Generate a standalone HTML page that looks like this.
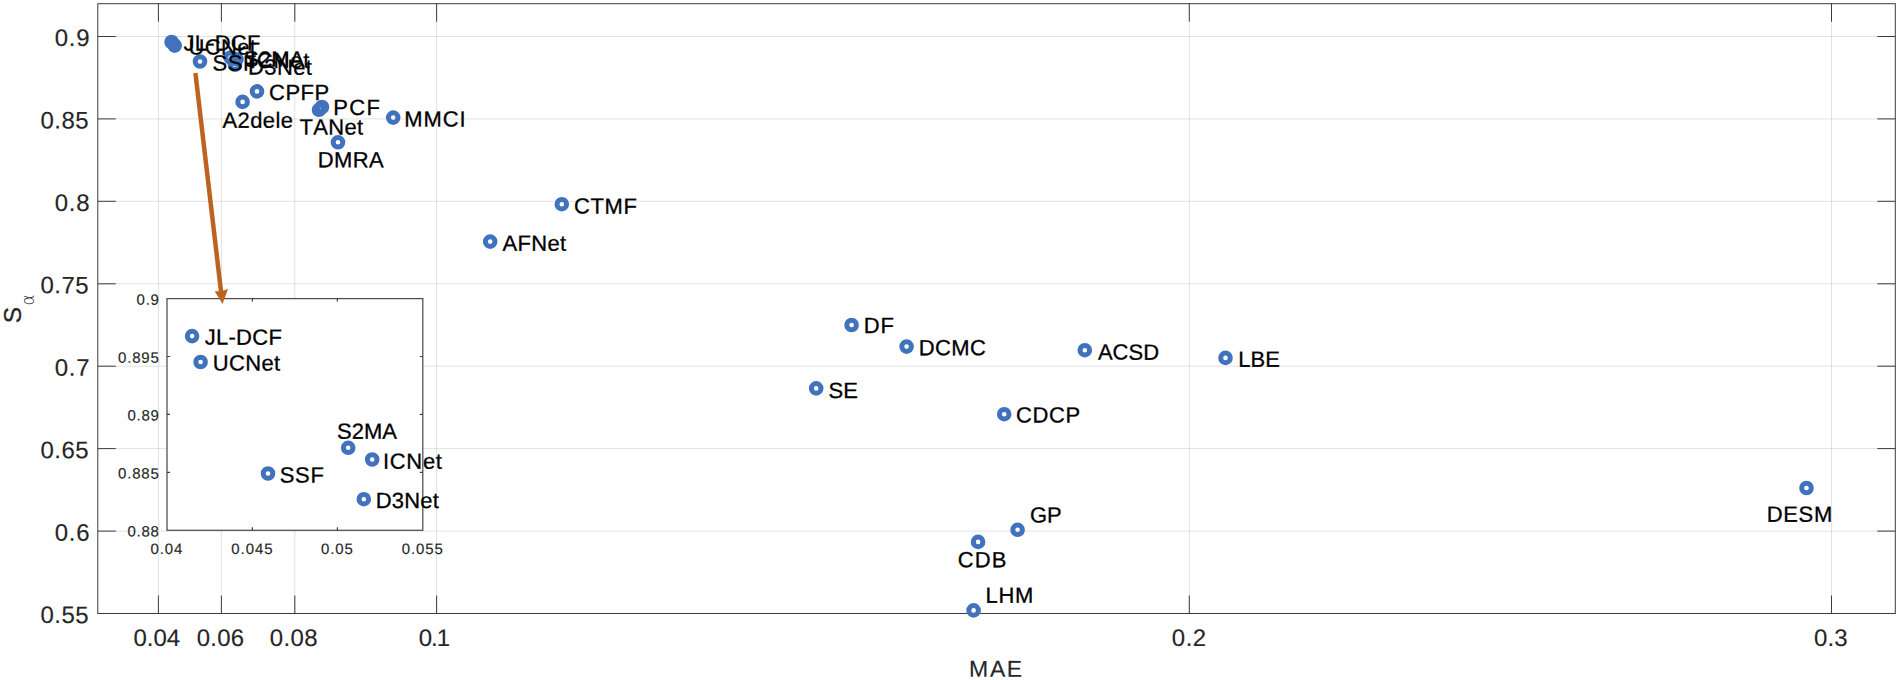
<!DOCTYPE html>
<html lang="en"><head><meta charset="utf-8"><title>S-alpha vs MAE</title>
<style>html,body{margin:0;padding:0;background:#fff}body{width:1901px;height:680px;overflow:hidden}</style></head>
<body>
<svg width="1901" height="680" viewBox="0 0 1901 680" style="display:block;font-family:'Liberation Sans',Arial,Helvetica,sans-serif;font-kerning:none">
<rect x="0" y="0" width="1901" height="680" fill="#fff"/>
<path d="M158.4 3.7V613.5M221.4 3.7V613.5M294.8 3.7V613.5M436.6 3.7V613.5M1189.3 3.7V613.5M1831.5 3.7V613.5" stroke="#262626" stroke-opacity="0.14" stroke-width="0.95" fill="none"/>
<path d="M97.8 36.5H1895.3M97.8 118.9H1895.3M97.8 201.3H1895.3M97.8 283.8H1895.3M97.8 366.2H1895.3M97.8 448.6H1895.3M97.8 531.1H1895.3" stroke="#262626" stroke-opacity="0.14" stroke-width="0.95" fill="none"/>
<path d="M158.4 613.5v-18M158.4 3.7v18M221.4 613.5v-18M221.4 3.7v18M294.8 613.5v-18M294.8 3.7v18M436.6 613.5v-18M436.6 3.7v18M1189.3 613.5v-18M1189.3 3.7v18M1831.5 613.5v-18M1831.5 3.7v18M97.8 36.5h18M1895.3 36.5h-18M97.8 118.9h18M1895.3 118.9h-18M97.8 201.3h18M1895.3 201.3h-18M97.8 283.8h18M1895.3 283.8h-18M97.8 366.2h18M1895.3 366.2h-18M97.8 448.6h18M1895.3 448.6h-18M97.8 531.1h18M1895.3 531.1h-18M97.8 613.5h18M1895.3 613.5h-18" stroke="#3c3c3c" stroke-width="1" fill="none"/>
<rect x="97.8" y="3.7" width="1797.5" height="609.8" fill="none" stroke="#3c3c3c" stroke-width="1"/>
<text transform="translate(54.66 46.05) skewY(0.06)" font-size="24" letter-spacing="0.81" fill="#262626" stroke="#262626" stroke-width="0.15">0.9</text>
<text transform="translate(40.56 128.49) skewY(0.06)" font-size="24" letter-spacing="0.41" fill="#262626" stroke="#262626" stroke-width="0.15">0.85</text>
<text transform="translate(54.66 210.92) skewY(0.06)" font-size="24" letter-spacing="0.76" fill="#262626" stroke="#262626" stroke-width="0.15">0.8</text>
<text transform="translate(40.56 293.36) skewY(0.06)" font-size="24" letter-spacing="0.41" fill="#262626" stroke="#262626" stroke-width="0.15">0.75</text>
<text transform="translate(54.66 375.79) skewY(0.06)" font-size="24" letter-spacing="0.84" fill="#262626" stroke="#262626" stroke-width="0.15">0.7</text>
<text transform="translate(40.56 458.23) skewY(0.06)" font-size="24" letter-spacing="0.41" fill="#262626" stroke="#262626" stroke-width="0.15">0.65</text>
<text transform="translate(54.66 540.66) skewY(0.06)" font-size="24" letter-spacing="0.76" fill="#262626" stroke="#262626" stroke-width="0.15">0.6</text>
<text transform="translate(40.56 623.10) skewY(0.06)" font-size="24" letter-spacing="0.41" fill="#262626" stroke="#262626" stroke-width="0.15">0.55</text>
<text transform="translate(133.46 646.00) skewY(0.06)" font-size="24" letter-spacing="-0.02" fill="#262626" stroke="#262626" stroke-width="0.15">0.04</text>
<text transform="translate(196.66 646.00) skewY(0.06)" font-size="24" letter-spacing="0.23" fill="#262626" stroke="#262626" stroke-width="0.15">0.06</text>
<text transform="translate(269.66 646.00) skewY(0.06)" font-size="24" letter-spacing="0.42" fill="#262626" stroke="#262626" stroke-width="0.15">0.08</text>
<text transform="translate(418.66 646.00) skewY(0.06)" font-size="24" letter-spacing="-0.93" fill="#262626" stroke="#262626" stroke-width="0.15">0.1</text>
<text transform="translate(1171.76 646.00) skewY(0.06)" font-size="24" letter-spacing="0.54" fill="#262626" stroke="#262626" stroke-width="0.15">0.2</text>
<text transform="translate(1814.06 646.00) skewY(0.06)" font-size="24" letter-spacing="0.11" fill="#262626" stroke="#262626" stroke-width="0.15">0.3</text>
<text transform="translate(969.11 676.70) skewY(0.06)" font-size="23" letter-spacing="1.62" fill="#262626" stroke="#262626" stroke-width="0.15">MAE</text>
<g transform="translate(21.4,323.2) rotate(-90)"><text x="0" y="0" font-size="24.5" fill="#262626" stroke="#262626" stroke-width="0.3">S</text><text x="17.6" y="12.2" font-size="17" fill="#262626" font-family="'DejaVu Sans Light','DejaVu Sans',sans-serif" font-weight="200">α</text></g>
<g fill="none" stroke="#4072be" stroke-width="5"><circle cx="171.6" cy="42.0" r="4.8"/><circle cx="174.7" cy="45.6" r="4.8"/><circle cx="200.0" cy="61.5" r="4.8"/><circle cx="230.6" cy="57.5" r="4.8"/><circle cx="236.5" cy="59.3" r="4.8"/><circle cx="235.0" cy="64.8" r="4.8"/><circle cx="257.0" cy="91.4" r="4.8"/><circle cx="242.6" cy="101.9" r="4.8"/><circle cx="322.0" cy="107.0" r="4.8"/><circle cx="319.0" cy="109.8" r="4.8"/><circle cx="393.2" cy="117.6" r="4.8"/><circle cx="338.0" cy="142.3" r="4.8"/><circle cx="561.8" cy="204.2" r="4.8"/><circle cx="490.2" cy="241.6" r="4.8"/><circle cx="851.6" cy="325.0" r="4.8"/><circle cx="906.6" cy="346.6" r="4.8"/><circle cx="1084.8" cy="350.2" r="4.8"/><circle cx="816.2" cy="388.4" r="4.8"/><circle cx="1004.2" cy="414.2" r="4.8"/><circle cx="1225.5" cy="357.9" r="4.8"/><circle cx="1017.6" cy="529.8" r="4.8"/><circle cx="978.1" cy="541.9" r="4.8"/><circle cx="973.6" cy="610.4" r="4.8"/><circle cx="1806.5" cy="488.0" r="4.8"/></g>
<text transform="translate(183.46 50.50) skewY(0.06)" font-size="22" letter-spacing="0.23" fill="#000" stroke="#000" stroke-width="0.28">JL-DCF</text>
<text transform="translate(188.50 54.50) skewY(0.06)" font-size="22" letter-spacing="0.34" fill="#000" stroke="#000" stroke-width="0.28">UCNet</text>
<text transform="translate(212.40 70.40) skewY(0.06)" font-size="22" letter-spacing="0.65" fill="#000" stroke="#000" stroke-width="0.28">SSF</text>
<text transform="translate(244.00 66.50) skewY(0.06)" font-size="22" letter-spacing="0.11" fill="#000" stroke="#000" stroke-width="0.28">S2MA</text>
<text transform="translate(249.77 68.00) skewY(0.06)" font-size="22" letter-spacing="0.84" fill="#000" stroke="#000" stroke-width="0.28">ICNet</text>
<text transform="translate(248.10 74.60) skewY(0.06)" font-size="22" letter-spacing="0.38" fill="#000" stroke="#000" stroke-width="0.28">D3Net</text>
<text transform="translate(269.08 100.00) skewY(0.06)" font-size="22" letter-spacing="0.47" fill="#000" stroke="#000" stroke-width="0.28">CPFP</text>
<text transform="translate(222.56 127.70) skewY(0.06)" font-size="22" letter-spacing="0.38" fill="#000" stroke="#000" stroke-width="0.28">A2dele</text>
<text transform="translate(333.20 115.00) skewY(0.06)" font-size="22" letter-spacing="1.39" fill="#000" stroke="#000" stroke-width="0.28">PCF</text>
<text transform="translate(299.51 134.40) skewY(0.06)" font-size="22" letter-spacing="0.33" fill="#000" stroke="#000" stroke-width="0.28">TANet</text>
<text transform="translate(404.20 126.40) skewY(0.06)" font-size="22" letter-spacing="0.93" fill="#000" stroke="#000" stroke-width="0.28">MMCI</text>
<text transform="translate(317.70 167.20) skewY(0.06)" font-size="22" letter-spacing="0.36" fill="#000" stroke="#000" stroke-width="0.28">DMRA</text>
<text transform="translate(573.88 213.60) skewY(0.06)" font-size="22" letter-spacing="0.64" fill="#000" stroke="#000" stroke-width="0.28">CTMF</text>
<text transform="translate(502.56 250.80) skewY(0.06)" font-size="22" letter-spacing="0.31" fill="#000" stroke="#000" stroke-width="0.28">AFNet</text>
<text transform="translate(863.80 333.00) skewY(0.06)" font-size="22" letter-spacing="0.76" fill="#000" stroke="#000" stroke-width="0.28">DF</text>
<text transform="translate(918.80 355.20) skewY(0.06)" font-size="22" letter-spacing="0.35" fill="#000" stroke="#000" stroke-width="0.28">DCMC</text>
<text transform="translate(1097.96 359.60) skewY(0.06)" font-size="22" letter-spacing="-0.01" fill="#000" stroke="#000" stroke-width="0.28">ACSD</text>
<text transform="translate(828.40 398.00) skewY(0.06)" font-size="22" letter-spacing="0.20" fill="#000" stroke="#000" stroke-width="0.28">SE</text>
<text transform="translate(1015.88 422.40) skewY(0.06)" font-size="22" letter-spacing="0.65" fill="#000" stroke="#000" stroke-width="0.28">CDCP</text>
<text transform="translate(1238.20 366.70) skewY(0.06)" font-size="22" letter-spacing="0.08" fill="#000" stroke="#000" stroke-width="0.28">LBE</text>
<text transform="translate(1029.89 522.50) skewY(0.06)" font-size="22" letter-spacing="-0.12" fill="#000" stroke="#000" stroke-width="0.28">GP</text>
<text transform="translate(957.78 567.20) skewY(0.06)" font-size="22" letter-spacing="1.11" fill="#000" stroke="#000" stroke-width="0.28">CDB</text>
<text transform="translate(985.60 602.80) skewY(0.06)" font-size="22" letter-spacing="0.68" fill="#000" stroke="#000" stroke-width="0.28">LHM</text>
<text transform="translate(1766.80 521.80) skewY(0.06)" font-size="22" letter-spacing="0.62" fill="#000" stroke="#000" stroke-width="0.28">DESM</text>
<rect x="167.0" y="298.6" width="255.8" height="231.7" fill="#fff" stroke="#4d4d4d" stroke-width="1.25"/>
<path d="M252.4 530.3v-3M252.4 298.6v3M337.4 530.3v-3M337.4 298.6v3M167.0 356.5h3M422.8 356.5h-3M167.0 414.4h3M422.8 414.4h-3M167.0 472.4h3M422.8 472.4h-3" stroke="#3c3c3c" stroke-width="1.2" fill="none"/>
<text transform="translate(150.51 553.90) skewY(0.06)" font-size="15" letter-spacing="0.88" fill="#262626" stroke="#262626" stroke-width="0.15">0.04</text>
<text transform="translate(231.26 553.90) skewY(0.06)" font-size="15" letter-spacing="0.94" fill="#262626" stroke="#262626" stroke-width="0.15">0.045</text>
<text transform="translate(320.91 553.90) skewY(0.06)" font-size="15" letter-spacing="0.94" fill="#262626" stroke="#262626" stroke-width="0.15">0.05</text>
<text transform="translate(401.66 553.90) skewY(0.06)" font-size="15" letter-spacing="0.94" fill="#262626" stroke="#262626" stroke-width="0.15">0.055</text>
<text transform="translate(136.61 304.80) skewY(0.06)" font-size="15" letter-spacing="0.72" fill="#262626" stroke="#262626" stroke-width="0.15">0.9</text>
<text transform="translate(118.11 362.70) skewY(0.06)" font-size="15" letter-spacing="0.79" fill="#262626" stroke="#262626" stroke-width="0.15">0.895</text>
<text transform="translate(127.41 420.60) skewY(0.06)" font-size="15" letter-spacing="0.77" fill="#262626" stroke="#262626" stroke-width="0.15">0.89</text>
<text transform="translate(118.11 478.60) skewY(0.06)" font-size="15" letter-spacing="0.79" fill="#262626" stroke="#262626" stroke-width="0.15">0.885</text>
<text transform="translate(127.41 536.50) skewY(0.06)" font-size="15" letter-spacing="0.75" fill="#262626" stroke="#262626" stroke-width="0.15">0.88</text>
<g fill="none" stroke="#4072be" stroke-width="5"><circle cx="192.1" cy="336.1" r="4.8"/><circle cx="200.6" cy="362.0" r="4.8"/><circle cx="268.0" cy="473.5" r="4.8"/><circle cx="348.2" cy="447.8" r="4.8"/><circle cx="372.2" cy="459.5" r="4.8"/><circle cx="363.8" cy="499.2" r="4.8"/></g>
<text transform="translate(204.66 344.60) skewY(0.06)" font-size="22" letter-spacing="0.29" fill="#000" stroke="#000" stroke-width="0.28">JL-DCF</text>
<text transform="translate(212.80 370.50) skewY(0.06)" font-size="22" letter-spacing="0.34" fill="#000" stroke="#000" stroke-width="0.28">UCNet</text>
<text transform="translate(279.75 482.50) skewY(0.06)" font-size="22" letter-spacing="0.67" fill="#000" stroke="#000" stroke-width="0.28">SSF</text>
<text transform="translate(337.00 438.75) skewY(0.06)" font-size="22" letter-spacing="0.04" fill="#000" stroke="#000" stroke-width="0.28">S2MA</text>
<text transform="translate(382.97 468.75) skewY(0.06)" font-size="22" letter-spacing="0.68" fill="#000" stroke="#000" stroke-width="0.28">ICNet</text>
<text transform="translate(375.70 508.00) skewY(0.06)" font-size="22" letter-spacing="0.21" fill="#000" stroke="#000" stroke-width="0.28">D3Net</text>
<line x1="195.4" y1="73.1" x2="221.2" y2="293" stroke="#bd6320" stroke-width="4.5"/>
<path d="M222.5 304.1L214.7 291.2L221.3 291.2L228 289.1Z" fill="#bd6320"/>
</svg>
</body></html>
